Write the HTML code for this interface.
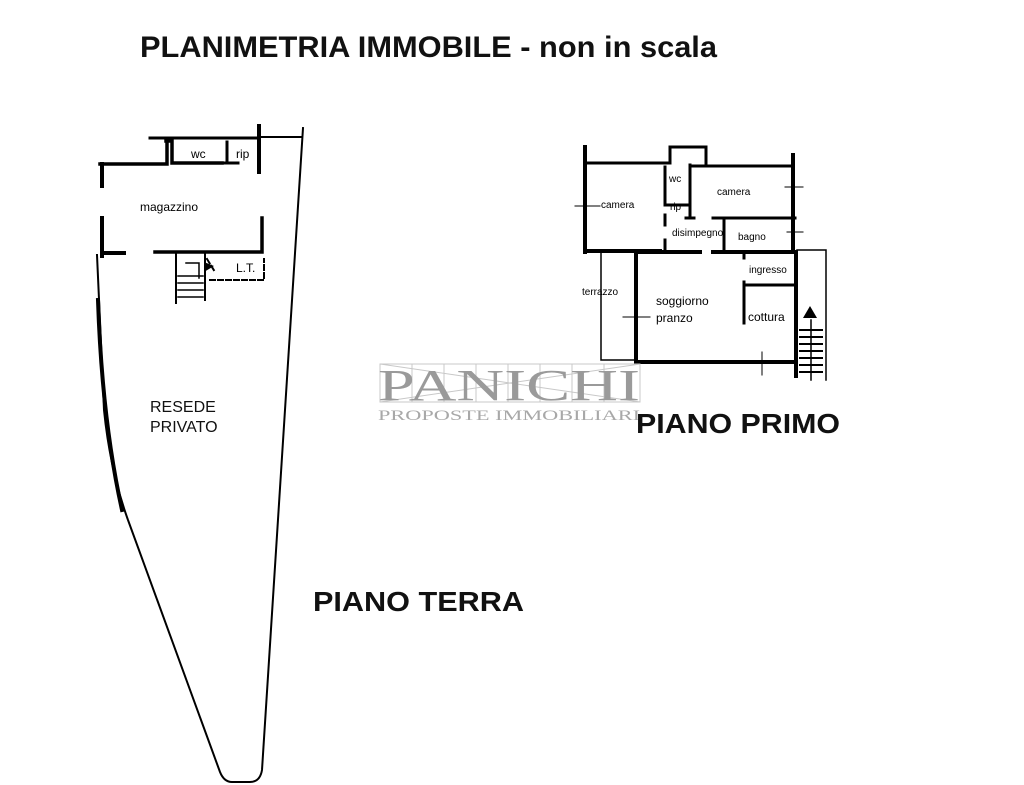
<!DOCTYPE html>
<html><head><meta charset="utf-8"><style>
html,body{margin:0;padding:0;background:#fff;}
svg{display:block;font-family:"Liberation Sans",Arial,sans-serif;}
</style></head><body>
<svg width="1024" height="785" viewBox="0 0 1024 785" xmlns="http://www.w3.org/2000/svg">
<rect width="1024" height="785" fill="#fff"/>
<text x="140" y="57" font-size="30" font-weight="bold" textLength="577" lengthAdjust="spacingAndGlyphs" fill="#111">PLANIMETRIA IMMOBILE - non in scala</text>

<!-- PIANO TERRA -->
<g stroke="#000" fill="none" stroke-linecap="square">
<path d="M150 138 H258" stroke-width="3"/>
<path d="M258 137 H302" stroke-width="2"/>
<path d="M100 164 H167 V141 M166 141 H172 V163 M172 163 H222" stroke-width="3.5"/>
<path d="M227 142 V162 M219 163 H238" stroke-width="3"/>
<path d="M259 126 V172" stroke-width="4"/>
<path d="M102 164 V186" stroke-width="4"/>
<path d="M102 218 V256 M102 253 H124" stroke-width="4"/>
<path d="M155 252 H262 V218" stroke-width="3.5"/>
<path d="M176 253 V303 M205 253 V300" stroke-width="2"/>
<path d="M178 276 H203 M178 283 H203 M178 290 H203 M178 297 H203" stroke-width="1.5"/>
<path d="M207 259 L215 272 M210 280 H264 V259" stroke-width="2" stroke-dasharray="5 3"/>
<path d="M186 263 H199 V278" stroke-width="1.5"/>
<!-- resede outline -->
<path d="M303 128 L262 770 Q260 782 250 782 L232 782 Q224 782 220 772 L128 520 Q110 470 104 410 L97 255" stroke-width="2" stroke-dasharray="40 2"/>
<path d="M98 300 Q102 420 122 510" stroke-width="4"/>
</g>
<polygon points="204,262 214,266 204,272" fill="#000"/>
<text x="191" y="158" font-size="12" fill="#000">wc</text>
<text x="236" y="158" font-size="12" fill="#000">rip</text>
<text x="140" y="211" font-size="12" fill="#000">magazzino</text>
<text x="236" y="272" font-size="12" fill="#000">L.T.</text>
<text x="150" y="412" font-size="16" fill="#111">RESEDE</text>
<text x="150" y="432" font-size="16" fill="#111">PRIVATO</text>
<text x="313" y="611" font-size="28" font-weight="bold" textLength="211" lengthAdjust="spacingAndGlyphs" fill="#111">PIANO TERRA</text>

<!-- PIANO PRIMO -->
<g stroke="#000" fill="none" stroke-linecap="square">
<path d="M585 147 V252" stroke-width="4"/>
<path d="M585 163 H670 V147 H706 V164 M690 166 H793" stroke-width="3"/>
<path d="M793 155 V252" stroke-width="4"/>
<path d="M585 251 H660" stroke-width="4"/>
<path d="M665 167 V205 M665 215 V225 M665 240 V252" stroke-width="3"/>
<path d="M665 205 H690 M690 165 V218 M686 218 H694" stroke-width="3"/>
<path d="M713 218 H795" stroke-width="3"/>
<path d="M724 218 V250" stroke-width="3"/>
<path d="M636 252 H700 M713 252 H795" stroke-width="4"/>
<path d="M636 252 V362" stroke-width="4"/>
<path d="M636 362 H796" stroke-width="4"/>
<path d="M796 252 V376" stroke-width="4"/>
<path d="M744 282 V323 M745 285 H793" stroke-width="3"/>
<path d="M744 252 V258" stroke-width="3"/>
<path d="M601 252 V360 H636" stroke-width="1.5"/>
<path d="M797 250 H826 V332 M826 332 V380" stroke-width="1.5"/>
<path d="M800 330 H822 M800 337 H822 M800 344 H822 M800 351 H822 M800 358 H822 M800 365 H822 M800 372 H822" stroke-width="2"/>
<path d="M811 320 V380" stroke-width="1.5"/>
<path d="M575 206 H600 M585 196 V216 M623 317 H650 M636 306 V330 M785 187 H803 M793 178 V196 M787 232 H803 M793 224 V240 M762 352 V375" stroke-width="1"/>
</g>
<polygon points="810,306 803,318 817,318" fill="#000"/>
<g font-size="10" fill="#000">
<text x="601" y="208">camera</text>
<text x="669" y="182">wc</text>
<text x="670" y="210">rip</text>
<text x="717" y="195">camera</text>
<text x="672" y="236">disimpegno</text>
<text x="738" y="240">bagno</text>
<text x="749" y="273">ingresso</text>
<text x="582" y="295">terrazzo</text>
</g>
<text x="656" y="305" font-size="12" fill="#000">soggiorno</text>
<text x="656" y="322" font-size="12" fill="#000">pranzo</text>
<text x="748" y="321" font-size="12" fill="#000">cottura</text>

<!-- watermark -->
<g fill="none" stroke="#c8c8c8" stroke-width="1">
<rect x="380" y="364" width="260" height="38"/>
<path d="M412 364 V402 M444 364 V402 M476 364 V402 M508 364 V402 M540 364 V402 M572 364 V402 M604 364 V402 M380 364 L640 402 M380 402 L640 364"/>
</g>
<text x="378" y="400" font-family="Liberation Serif,serif" font-size="44" fill="#9a9a9a" textLength="262" lengthAdjust="spacingAndGlyphs">PANICHI</text>
<text x="378" y="420" font-family="Liberation Serif,serif" font-size="15" fill="#a8a8a8" textLength="262" lengthAdjust="spacingAndGlyphs">PROPOSTE IMMOBILIARI</text>
<text x="636" y="433" font-size="28" font-weight="bold" textLength="204" lengthAdjust="spacingAndGlyphs" fill="#111">PIANO PRIMO</text>
</svg>
</body></html>
